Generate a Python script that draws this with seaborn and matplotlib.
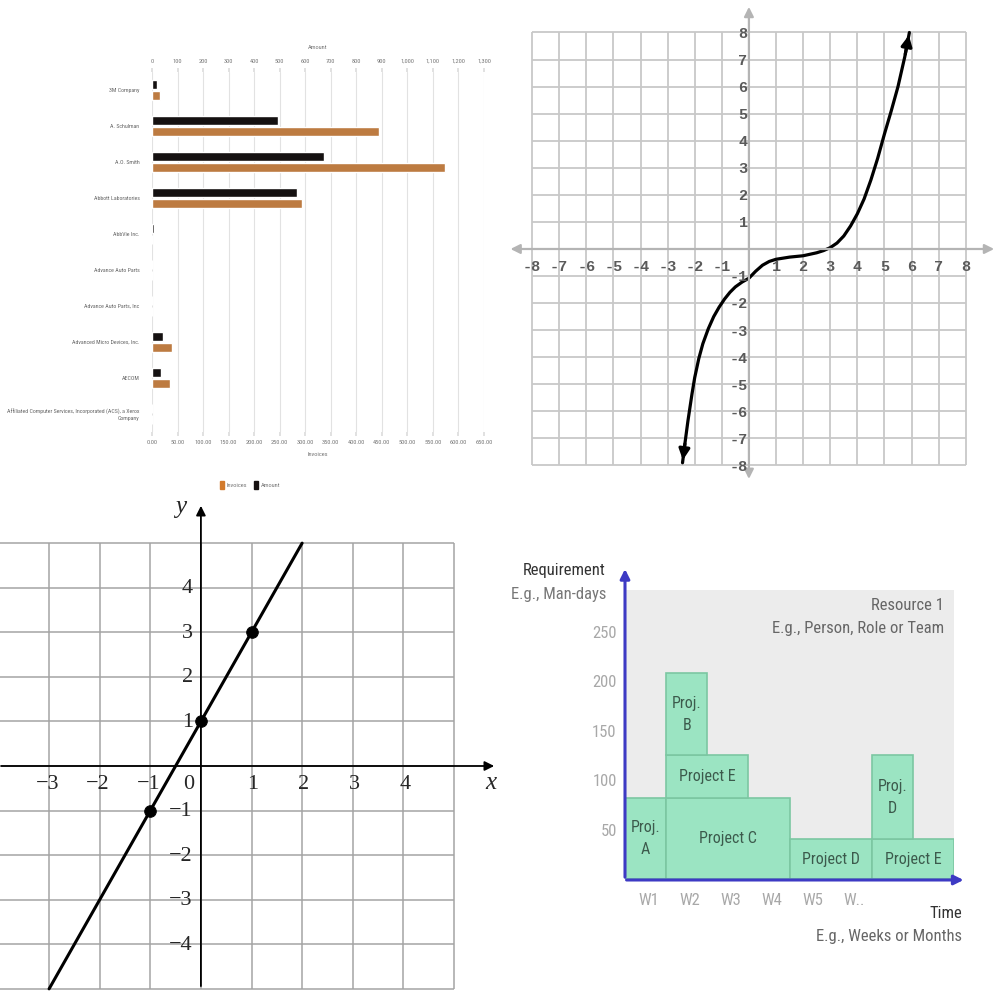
import numpy as np
import pandas as pd
import seaborn as sns
import matplotlib.pyplot as plt
from matplotlib.patches import Patch
from matplotlib import font_manager
from matplotlib.font_manager import FontProperties

sns.set_theme(style='white')
plt.rcParams['font.family'] = ['DejaVu Sans']

# look for a condensed sans face for the narrow labels
cond_file = None
for want in ['Liberation Sans Narrow', 'Roboto Condensed', 'DejaVu Sans', 'Open Sans Condensed', 'Noto Sans']:
    for f in font_manager.fontManager.ttflist:
        if f.name == want and f.style == 'normal' and f.weight in (400, 'normal', 'regular') \
                and f.stretch in ('condensed', 'semi-condensed', 'extra-condensed') or \
                (f.name == want and 'Narrow' in want and f.style == 'normal' and f.weight in (400, 'normal')):
            cond_file = f.fname
            break
    if cond_file:
        break

if cond_file:
    def nfont(size):
        return FontProperties(fname=cond_file, size=size)
else:
    def nfont(size):
        return FontProperties(family='Liberation Sans', size=size * 0.82)

# ---- top-left: companies bar chart ----
companies = ['3M Company', 'A. Schulman', 'A.O. Smith', 'Abbott Laboratories', 'AbbVie Inc.',
             'Advance Auto Parts', 'Advance Auto Parts, Inc', 'Advanced Micro Devices, Inc.',
             'AECOM', 'Affiliated Computer Services, Incorporated (ACS), a Xerox\nCompany']
amount = [20, 495, 672, 567, 8, 0, 0, 42, 37, 0]
invoices = [16, 444, 573, 294, 0, 0, 0, 40, 35, 0]
amount_ticks = list(range(0, 1301, 100))
invoice_ticks = list(range(0, 651, 50))

# ---- top-right: cubic curve ----
cubic_x = [-2.45, -2.35, -2.25, -2.1, -2.0, -1.85, -1.7, -1.5, -1.3, -1.1, -0.9, -0.7, -0.5,
           -0.25, 0.0, 0.25, 0.5, 0.75, 1.0, 1.5, 2.0, 2.5, 2.75, 3.0, 3.25, 3.5, 3.75, 4.0,
           4.25, 4.5, 4.75, 5.0, 5.25, 5.5, 5.75, 5.92]
cubic_y = [-7.9, -7.1, -6.35, -5.35, -4.75, -4.05, -3.5, -2.95, -2.5, -2.15, -1.85, -1.6, -1.4,
           -1.22, -1.08, -0.82, -0.6, -0.46, -0.38, -0.3, -0.25, -0.14, -0.06, 0.05, 0.22, 0.48,
           0.85, 1.3, 1.85, 2.55, 3.35, 4.25, 5.1, 6.0, 7.1, 8.0]
grid2 = list(range(-8, 9))

# ---- bottom-left: line y = 2x + 1 ----
line_x = [-3, 2]
line_y = [-5, 5]
pts_x = [-1, 0, 1]
pts_y = [-1, 1, 3]
grid3_x = list(range(-4, 6))
grid3_y = list(range(-5, 6))
ticks3_x = [-3, -2, -1, 0, 1, 2, 3, 4]
ticks3_y = [-4, -3, -2, -1, 1, 2, 3, 4]

# ---- bottom-right: resource requirement blocks ----
projects = ['Proj.\nA', 'Project C', 'Project E', 'Proj.\nB', 'Project D', 'Project E', 'Proj.\nD']
proj_start = [0, 1, 1, 1, 4, 6, 6]
proj_width = [1, 3, 2, 1, 2, 2, 1]
proj_bottom = [0, 0, 82, 125, 0, 0, 40]
proj_height = [82, 82, 43, 83, 40, 40, 85]
weeks = ['W1', 'W2', 'W3', 'W4', 'W5', 'W..']
req_ticks = [50, 100, 150, 200, 250]


def rect(l, t, r, b):
    return [l / 1000, 1 - b / 1000, (r - l) / 1000, (b - t) / 1000]


fig = plt.figure(figsize=(10, 10), dpi=100)

# ======== panel 1 ========
pal = {'Amount': '#161010', 'Invoices': '#d27a2c'}
hue_order = ['Amount', 'Invoices']
df_amt = pd.DataFrame({'company': companies, 'value': amount, 'series': 'Amount'})
df_inv = pd.DataFrame({'company': companies, 'value': invoices, 'series': 'Invoices'})

ax_amt = fig.add_axes(rect(152, 72, 484, 432))
ax_inv = fig.add_axes(rect(152, 72, 484, 432))
sns.barplot(data=df_amt, x='value', y='company', hue='series', hue_order=hue_order, order=companies,
            palette=pal, orient='h', width=0.62, gap=0.25, dodge=True, legend=False, ax=ax_amt)
sns.barplot(data=df_inv, x='value', y='company', hue='series', hue_order=hue_order, order=companies,
            palette=pal, orient='h', width=0.62, gap=0.25, dodge=True, legend=False, ax=ax_inv)
ax_amt.set_xlim(0, 1300)
ax_inv.set_xlim(0, 650)
for a in (ax_amt, ax_inv):
    a.set_ylim(9.5, -0.5)
    for s in a.spines.values():
        s.set_visible(False)
ax_inv.patch.set_visible(False)

small = 4.6
ax_amt.xaxis.tick_top()
ax_amt.xaxis.set_label_position('top')
ax_amt.set_xticks(amount_ticks)
ax_amt.set_xticklabels([f'{v:,}' for v in amount_ticks])
ax_amt.set_xlabel('Amount', fontproperties=nfont(small), color='#777', labelpad=7)
ax_amt.set_ylabel('')
ax_amt.grid(axis='x', color='#e2e2e2', lw=0.8)
ax_amt.set_axisbelow(True)
ax_amt.tick_params(axis='x', top=True, length=3, color='#ddd', labelcolor='#777', pad=3)
ax_amt.tick_params(axis='y', left=False, labelcolor='#666', pad=3)
for lbl in ax_amt.get_xticklabels():
    lbl.set_fontproperties(nfont(small))
for lbl in ax_amt.get_yticklabels():
    lbl.set_fontproperties(nfont(4.2))

ax_inv.set_xticks(invoice_ticks)
ax_inv.set_xticklabels([f'{v:.2f}' for v in invoice_ticks])
ax_inv.set_xlabel('Invoices', fontproperties=nfont(small), color='#777', labelpad=5)
ax_inv.set_ylabel('')
ax_inv.tick_params(axis='x', bottom=True, length=3, color='#ddd', labelcolor='#777', pad=3)
ax_inv.tick_params(axis='y', left=False, labelleft=False)
for lbl in ax_inv.get_xticklabels():
    lbl.set_fontproperties(nfont(small))

fig.legend(handles=[Patch(color=pal['Invoices']), Patch(color=pal['Amount'])],
           labels=['Invoices', 'Amount'], loc='center', bbox_to_anchor=(0.25, 0.515), ncol=2,
           frameon=False, prop=nfont(small), handlelength=0.7, handleheight=1.5, columnspacing=1.0,
           handletextpad=0.4, labelcolor='#777')

# ======== panel 2 ========
ax2 = fig.add_axes(rect(505, 3, 998, 482))
ax2.set_xlim(-9.0, 9.19)
ax2.set_ylim(-8.61, 9.09)
ax2.axis('off')
ax2.vlines(grid2, -8, 8, color='#c8c8c8', lw=1.3)
ax2.hlines(grid2, -8, 8, color='#c8c8c8', lw=1.3)
arrow_gray = dict(arrowstyle='<|-|>', color='#b4b4b4', lw=1.6, mutation_scale=14)
ax2.annotate('', xy=(9.15, 0), xytext=(-8.9, 0), arrowprops=arrow_gray)
ax2.annotate('', xy=(0, 9.05), xytext=(0, -8.6), arrowprops=arrow_gray)
sns.lineplot(x=cubic_x, y=cubic_y, sort=False, color='black', lw=2.3, ax=ax2)
head = dict(arrowstyle='-|>', color='black', lw=2.3, mutation_scale=16)
ax2.annotate('', xy=(cubic_x[-1], cubic_y[-1]), xytext=(cubic_x[-2], cubic_y[-2]), arrowprops=head)
ax2.annotate('', xy=(cubic_x[0], cubic_y[0]), xytext=(cubic_x[1], cubic_y[1]), arrowprops=head)
for v in grid2:
    if v == 0:
        continue
    ax2.text(v, -0.68, str(v), ha='center', va='center', fontsize=11, color='#5a5a5a',
             family='Liberation Mono', fontweight='bold')
    ax2.text(-0.05, v - 0.05, str(v), ha='right', va='center', fontsize=11, color='#5a5a5a',
             family='Liberation Mono', fontweight='bold')

# ======== panel 3 ========
ax3 = fig.add_axes(rect(0, 495, 500, 1000))
ax3.set_xlim(-3.97, 5.91)
ax3.set_ylim(-5.25, 6.08)
ax3.axis('off')
ax3.vlines(grid3_x, -5, 5, color='#a4a4a4', lw=1.1)
ax3.hlines(grid3_y, -4, 5, color='#a4a4a4', lw=1.1)
axis_black = dict(arrowstyle='-|>', color='black', lw=1.3, mutation_scale=14)
ax3.annotate('', xy=(5.85, 0), xytext=(-4, 0), arrowprops=axis_black)
ax3.annotate('', xy=(0, 5.9), xytext=(0, -5), arrowprops=axis_black)
sns.lineplot(x=line_x, y=line_y, color='black', lw=2.2, ax=ax3)
sns.scatterplot(x=pts_x, y=pts_y, color='black', s=70, edgecolor='black', zorder=5, ax=ax3)
serif = 'Liberation Serif'
ax3.text(5.72, -0.38, 'x', fontsize=18, style='italic', family=serif, ha='center', va='center')
ax3.text(-0.4, 5.8, 'y', fontsize=18, style='italic', family=serif, ha='center', va='center')
for v in ticks3_x:
    if v < 0:
        ax3.text(v + 0.2, -0.42, f'\u2212{-v}', ha='right', va='center', fontsize=16, family=serif)
    elif v == 0:
        ax3.text(-0.25, -0.42, '0', ha='center', va='center', fontsize=16, family=serif)
    else:
        ax3.text(v + 0.03, -0.42, str(v), ha='center', va='center', fontsize=16, family=serif)
for v in ticks3_y:
    lbl = f'\u2212{-v}' if v < 0 else str(v)
    ax3.text(-0.16, v - 0.02, lbl, ha='right', va='center', fontsize=16, family=serif)

# ======== panel 4 ========
ax4 = fig.add_axes(rect(625, 590, 954, 879))
ax4.set_xlim(0, 8)
ax4.set_ylim(0, 292)
ax4.set_facecolor('#ececec')
for s in ax4.spines.values():
    s.set_visible(False)
ax4.bar(proj_start, proj_height, width=proj_width, bottom=proj_bottom, align='edge',
        color='#9be4c2', edgecolor='#7cc7a2', lw=1.2)
for name, x0, w, b, h in zip(projects, proj_start, proj_width, proj_bottom, proj_height):
    ax4.text(x0 + w / 2, b + h / 2, name, ha='center', va='center', fontproperties=nfont(11.5),
             color='#3c5a4c', linespacing=1.6)
blue = dict(arrowstyle='-|>', color='#3d3ac4', lw=2.2, mutation_scale=14)
ax4.annotate('', xy=(0, 316), xytext=(0, -1), arrowprops=blue, annotation_clip=False)
ax4.annotate('', xy=(8.3, -1), xytext=(-0.03, -1), arrowprops=blue, annotation_clip=False)
ax4.set_yticks(req_ticks)
ax4.set_yticklabels([str(v) for v in req_ticks])
ax4.set_xticks(np.arange(len(weeks)) + 0.57)
ax4.set_xticklabels(weeks)
ax4.tick_params(length=0, labelcolor='#a8a8a8')
ax4.tick_params(axis='y', pad=6)
ax4.tick_params(axis='x', pad=10)
for lbl in ax4.get_xticklabels() + ax4.get_yticklabels():
    lbl.set_fontproperties(nfont(12))


def ftext(x, y, s, **kw):
    fig.text(x / 1000, 1 - y / 1000, s, fontproperties=nfont(12), va='center', **kw)


ftext(606, 571, 'Requirement', ha='right', color='#333')
ftext(606, 594, 'E.g., Man-days', ha='right', color='#777')
ftext(944, 605, 'Resource 1', ha='right', color='#666')
ftext(944, 629, 'E.g., Person, Role or Team', ha='right', color='#666')
ftext(962, 913, 'Time', ha='right', color='#333')
ftext(962, 937, 'E.g., Weeks or Months', ha='right', color='#666')

fig.savefig('out.png', dpi=100)
